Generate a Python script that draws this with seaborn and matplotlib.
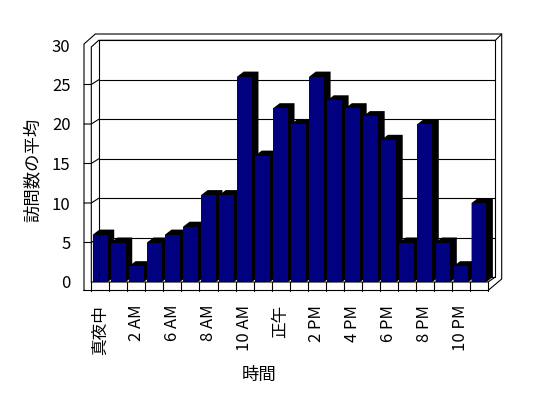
# Average visits by hour, old-style 3D column look

import pandas as pd
import matplotlib as mpl
mpl.use('Agg')
import matplotlib.pyplot as plt
import seaborn as sns
from matplotlib.lines import Line2D
from matplotlib.patches import Polygon
from matplotlib.transforms import IdentityTransform

# data
hours = ['真夜中', '1 AM', '2 AM', '4 AM', '6 AM', '7 AM', '8 AM', '9 AM', '10 AM', '11 AM',
         '正午', '1 PM', '2 PM', '3 PM', '4 PM', '5 PM', '6 PM', '7 PM', '8 PM', '9 PM',
         '10 PM', '11 PM']
visits = [6, 5, 2, 5, 6, 7, 11, 11, 26, 16, 22, 20, 26, 23, 22, 21, 18, 5, 20, 5, 2, 10]
y_ticks = [0, 5, 10, 15, 20, 25, 30]
x_label = '時間'
y_label = '訪問数の平均'

df = pd.DataFrame({'hour': hours, 'visits': visits})

W, H = 548, 398
sns.set_theme(style = 'white')
plt.rcParams['font.family'] = ['Noto Sans CJK JP', 'DejaVu Sans']

fig = plt.figure(figsize = (W / 100, H / 100), dpi = 100)
fig.patch.set_facecolor('white')

# front plane of the box in pixels (left, right, top, bottom)
L, R, T, B = 91.3, 488, 45, 282
ax = fig.add_axes([L / W, 1 - B / H, (R - L) / W, (B - T) / H])
ax.patch.set_alpha(0)

sns.barplot(ax = ax,
            data = df,
            x = 'hour',
            y = 'visits',
            order = hours,
            color = '#000080',
            saturation = 1,
            width = 0.82,
            linewidth = 0,
            zorder = 3)

ax.set_xlim(-0.5, len(hours) - 0.5)
ax.set_ylim(0, 30)
for s in ax.spines.values():
    s.set_visible(False)

lw = 0.8
idt = IdentityTransform()
to_px = ax.transData.transform

# depth of the back wall and of the bars (pixels, y up)
DX, DY = 7.4, 4.7
BX, BY = 6.5, 5.0
WALL = 7.3

# black extrusion behind each bar
for p in list(ax.patches):
    x0, w, h = p.get_x(), p.get_width(), p.get_height()
    (a, b), (c, d) = to_px([(x0, 0), (x0 + w, h)])
    pts = [(a, d), (a + BX, d + BY), (c + BX, d + BY), (c + BX, b + BY), (c, b), (a, b)]
    ax.add_patch(Polygon(pts, closed = True, transform = idt, fc = 'black', ec = 'none',
                         zorder = 2, clip_on = False))

# back wall gridlines and the little ticks across the left wall
xl, xr = ax.get_xlim()
for v in y_ticks:
    (xf0, yf), (xf1, _) = to_px([(xl, v), (xr, v)])
    ax.add_line(Line2D([xf0 + DX, xf1 + DX], [yf + DY, yf + DY], transform = idt,
                       color = 'black', lw = lw, zorder = 1, clip_on = False))
    if 0 < v < 30:
        ax.add_line(Line2D([xf0 - WALL, xf0, xf0 + DX], [yf, yf, yf + DY], transform = idt,
                           color = 'black', lw = lw, zorder = 1, clip_on = False))

# floor strip cell dividers
for i in range(len(hours) + 1):
    xc = to_px((xl + i, 0))[0]
    ax.add_line(Line2D([xc, xc], [H - B, H - B - 8.5], transform = idt,
                       color = 'black', lw = lw, zorder = 4, clip_on = False))

# box outline (pixel coords from the top)
def px(pts):
    return [x for x, y in pts], [H - y for x, y in pts]

frame = [
    [(84, 290.5), (84, 44), (95.3, 34), (501.7, 34), (501.7, 279), (488, 290.5), (84, 290.5)],
    [(91.3, 282), (91.3, 47), (98.7, 40.3), (495.4, 40.3), (501.7, 34)],
    [(98.7, 40.3), (98.7, 277)],
    [(495.4, 40.3), (495.4, 277)],
    [(91.3, 282), (488, 282), (495.4, 277)],
]
for seg in frame:
    xs, ys = px(seg)
    fig.add_artist(Line2D(xs, ys, transform = idt, color = 'black', lw = lw, zorder = 5))

# ticks and labels
ax.set_yticks(y_ticks)
ax.set_yticklabels([str(v) for v in y_ticks])
ax.set_xticks(range(0, len(hours), 2))
ax.set_xticklabels(hours[::2], rotation = 90)
ax.tick_params(axis = 'y', length = 0, pad = 15, labelsize = 12, labelcolor = 'black')
ax.tick_params(axis = 'x', length = 0, pad = 16.5, labelsize = 12, labelcolor = 'black')

ax.set_xlabel(x_label, fontsize = 12.5, color = 'black')
ax.set_ylabel(y_label, fontsize = 12.5, color = 'black')
ax.xaxis.set_label_coords((259 - L) / (R - L), (B - 366) / (B - T))
ax.yaxis.set_label_coords((42 - L) / (R - L), (B - 170) / (B - T))

fig.savefig('out.png', dpi = 100, facecolor = 'white')
plt.close()
